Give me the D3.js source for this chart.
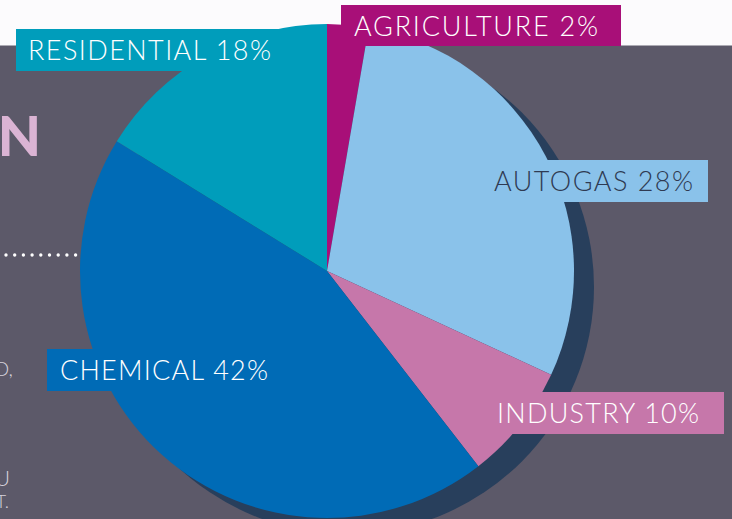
<!DOCTYPE html>
<html>
<head>
<meta charset="utf-8">
<script src="https://cdn.jsdelivr.net/npm/d3@7"></script>
<style>
  html, body { margin: 0; padding: 0; background: #5c5969; }
  svg { display: block; }
</style>
</head>
<body>
<div id="chart"></div>
<script>
// data
const sectors = ["AGRICULTURE", "AUTOGAS", "INDUSTRY", "CHEMICAL", "RESIDENTIAL"];
const percent = [2, 28, 10, 42, 18];              // as printed on the labels
const sliceSize = [2.7, 29.2, 7.6, 44.3, 16.2];   // slice sizes as drawn in the picture
const colors = ["#a80f78", "#8ac2ea", "#c677aa", "#006bb6", "#009dbb"];
const textColors = ["#ffffff", "#2f3a52", "#ffffff", "#ffffff", "#ffffff"];

const W = 732, H = 519;
const cx = 327, cy = 271, r = 247;

const svg = d3.select("#chart")
    .append("svg")
    .attr("width", W)
    .attr("height", H);

// backdrop: white strip on top, grey below
svg.append("rect").attr("x", 0).attr("y", 0).attr("width", W).attr("height", H).attr("fill", "#5c5969");
svg.append("rect").attr("x", 0).attr("y", 0).attr("width", W).attr("height", 45.5).attr("fill", "#fcfbfd");

// bits of the poster behind the chart
svg.append("text")
    .attr("x", 41).attr("y", 156)
    .attr("text-anchor", "end")
    .style("font-family", "Lato, sans-serif")
    .style("font-weight", 900)
    .style("font-size", "56px")
    .attr("fill", "#dbb4d4")
    .text("N");

svg.append("line")
    .attr("x1", 6).attr("x2", 82)
    .attr("y1", 255).attr("y2", 255)
    .attr("stroke", "#ffffff")
    .attr("stroke-width", 3.4)
    .attr("stroke-linecap", "round")
    .attr("stroke-dasharray", "0 8.7");

const small = [["D,", 13, 376, 20], ["U", 10, 486, 21], ["T.", 9, 508, 18]];
small.forEach(s => {
    svg.append("text")
        .attr("x", s[1]).attr("y", s[2])
        .attr("text-anchor", "end")
        .style("font-family", "Lato, sans-serif")
        .style("font-weight", 300)
        .style("font-size", s[3] + "px")
        .attr("fill", "#d6d2dc")
        .text(s[0]);
});

// pie
const pie = d3.pie().sort(null).value(d => d)(sliceSize);
const arc = d3.arc().innerRadius(0).outerRadius(r);

// shadow
svg.append("circle")
    .attr("cx", cx + 20).attr("cy", cy + 16)
    .attr("r", r)
    .attr("fill", "#283f5c");

svg.append("g")
    .attr("transform", `translate(${cx},${cy})`)
    .selectAll("path")
    .data(pie)
    .join("path")
    .attr("d", arc)
    .attr("fill", (d, i) => colors[i]);

// label boxes
const labels = [
    { box: [341, 5, 280, 41], tx: 354, ty: 36, tw: 244 },
    { box: [488, 160, 220, 42], tx: 494, ty: 191, tw: 199 },
    { box: [480, 392, 244, 42], tx: 497, ty: 423, tw: 202 },
    { box: [47, 349, 240, 42], tx: 60, ty: 380, tw: 208 },
    { box: [16, 29, 275, 42], tx: 28, ty: 60, tw: 243 }
];

labels.forEach((l, i) => {
    svg.append("rect")
        .attr("x", l.box[0]).attr("y", l.box[1])
        .attr("width", l.box[2]).attr("height", l.box[3])
        .attr("fill", colors[i]);
    svg.append("text")
        .attr("x", l.tx).attr("y", l.ty)
        .attr("textLength", l.tw)
        .attr("lengthAdjust", "spacing")
        .style("font-family", "Lato, sans-serif")
        .style("font-weight", 300)
        .style("font-size", "27px")
        .attr("fill", textColors[i])
        .text(`${sectors[i]} ${percent[i]}%`);
});
</script>
</body>
</html>
